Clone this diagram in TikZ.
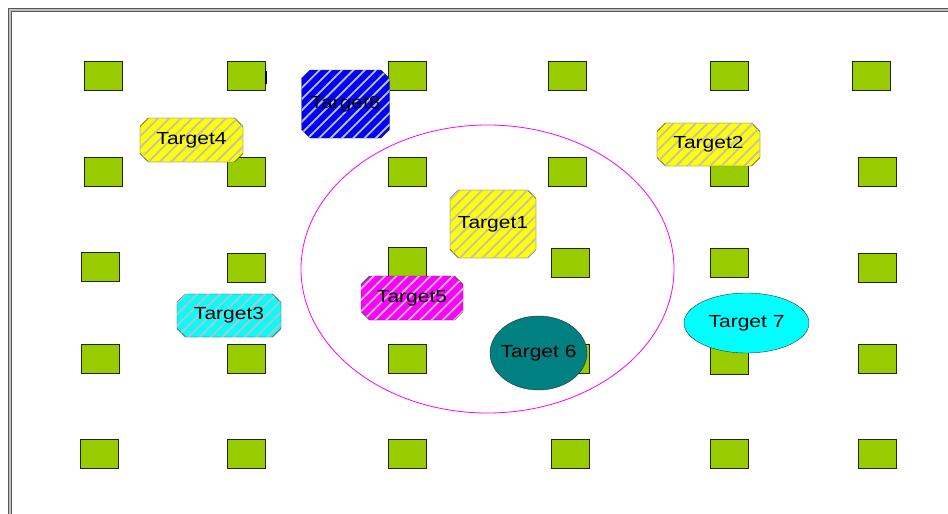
\documentclass[tikz,border=0pt]{standalone}
\usepackage{fontspec}
\setmainfont{Liberation Sans}[FakeStretch=1.2]
\usetikzlibrary{shapes.misc,shapes.geometric,patterns.meta}
\definecolor{leaf}{RGB}{153,204,0}
\definecolor{tealish}{RGB}{0,128,128}
\definecolor{aqua}{RGB}{0,255,255}
\definecolor{fuchsia}{RGB}{255,0,255}
\definecolor{pureblue}{RGB}{0,0,255}
\definecolor{pureyellow}{RGB}{255,255,0}
\definecolor{stripe}{RGB}{192,192,192}

\begin{document}
\begin{tikzpicture}[x=1pt, y=-1pt,
    font=\fontsize{17.5}{20}\selectfont,
    sq/.style = {draw=black!80!leaf, fill=leaf, minimum width=38pt, minimum height=29pt, inner sep=0pt},
    tgt/.style = {chamfered rectangle, chamfered rectangle xsep=5pt, draw=black!80, inner sep=0pt,
                  postaction={pattern color=stripe, pattern={Lines[angle=45,distance=8pt,line width=1.8pt]}}},
    blob/.style = {ellipse, draw=black!80, inner sep=0pt}]
            \useasboundingbox (0,0) rectangle (948,514);
            \clip (0,0) rectangle (948,514);

            \draw[draw=gray!70!black, double=gray!50, double distance=2pt, line width=0.8pt] (10,10) rectangle (990,560);

            \node[ellipse, draw=fuchsia, line width=0.8pt, minimum width=373pt, minimum height=288pt] (zone) at (487.5,269) {};

            \node[sq] (s11) at (103.5,76) {};
            \node[sq] (s12) at (246,76) {};
            \node[sq] (s13) at (407,76) {};
            \node[sq] (s14) at (567.5,76) {};
            \node[sq] (s15) at (729,76) {};
            \node[sq] (s16) at (871,76) {};
            \coordinate (m1) at (266,71);
            \coordinate (m2) at (266,84);
            \draw[line width=1.5pt] (m1) -- (m2);

            \node[sq] (s21) at (103.5,171.5) {};
            \node[sq] (s22) at (246.5,171.5) {};
            \node[sq] (s23) at (407,172) {};
            \node[sq] (s24) at (567.5,171.5) {};
            \node[sq] (s25) at (729,171.5) {};
            \node[sq] (s26) at (877,171.5) {};

            \node[sq] (s31) at (100.5,267) {};
            \node[sq] (s32) at (246.5,268) {};
            \node[sq] (s33) at (407,262) {};
            \node[sq] (s34) at (570,263) {};
            \node[sq] (s35) at (729,263) {};
            \node[sq] (s36) at (877,267.5) {};

            \node[sq] (s41) at (100,358.5) {};
            \node[sq] (s42) at (246.5,358.5) {};
            \node[sq] (s43) at (407,358.5) {};
            \node[sq] (s44) at (570,358.5) {};
            \node[sq] (s45) at (729,359.5) {};
            \node[sq] (s46) at (877,358.5) {};

            \node[sq] (s51) at (99,454) {};
            \node[sq] (s52) at (246.5,454) {};
            \node[sq] (s53) at (407,454) {};
            \node[sq] (s54) at (570,454) {};
            \node[sq] (s55) at (729,454) {};
            \node[sq] (s56) at (877,454) {};

            \node[tgt, fill=pureyellow, minimum width=86pt, minimum height=68pt] (t1) at (493,224) {Target1};
            \node[tgt, fill=pureyellow, minimum width=103pt, minimum height=43pt] (t2) at (708.5,144.5) {Target2};
            \node[tgt, fill=aqua, minimum width=104pt, minimum height=43pt] (t3) at (229,315.5) {Target3};
            \node[tgt, fill=pureyellow, minimum width=103pt, minimum height=44pt] (t4) at (191.5,140) {Target4};
            \node[tgt, fill=fuchsia, minimum width=102pt, minimum height=44pt] (t5) at (412,298) {Target5};
            \node[blob, fill=tealish, inner sep=-5pt, minimum width=97pt, minimum height=74pt] (t6) at (538.5,353) {Target 6};
            \node[blob, fill=aqua, minimum width=125pt, minimum height=60pt] (t7) at (746.5,323) {Target 7};
            \node[tgt, fill=pureblue, minimum width=88pt, minimum height=68pt] (t8) at (345.5,104) {Target8};

        \end{tikzpicture}
\end{document}
